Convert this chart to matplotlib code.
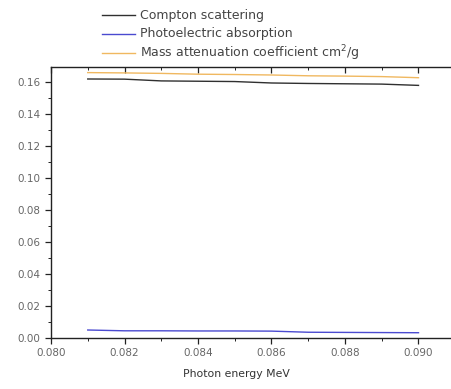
import matplotlib
matplotlib.use("Agg")
import matplotlib.pyplot as plt
from matplotlib.lines import Line2D
from matplotlib.ticker import MultipleLocator, FormatStrFormatter

plt.rcParams['font.family'] = ['DejaVu Sans']

energy = [0.081, 0.082, 0.083, 0.084, 0.085, 0.086, 0.087, 0.088, 0.089, 0.090]
compton = [0.1620, 0.1619, 0.1608, 0.1606, 0.1604, 0.1595, 0.1592, 0.1590, 0.1588, 0.1580]
photo = [0.0050, 0.0045, 0.0045, 0.0044, 0.0044, 0.0043, 0.0036, 0.0035, 0.0034, 0.0033]
mass = [0.1660, 0.1658, 0.1655, 0.1650, 0.1648, 0.1645, 0.1640, 0.1638, 0.1635, 0.1628]
labels = ["Compton scattering", "Photoelectric absorption", "Mass attenuation coefficient cm$^2$/g"]
colors = ['#303030', '#4a4ad0', '#f0b860']

W, H = 451, 389
fig = plt.figure(figsize=(W/100, H/100), dpi=100)
ax = fig.add_axes([51/W, 1-338/H, 400/W, (338-67)/H])

lines = []
for ys, c in zip([compton, photo, mass], colors):
    l, = ax.plot(energy, ys, color=c, lw=1.0)
    lines.append(l)

ax.set_xlim(0.080, 0.080 + 400/36.75*0.001)
ax.set_ylim(0, 0.1695)
ax.xaxis.set_major_locator(MultipleLocator(0.002))
ax.xaxis.set_minor_locator(MultipleLocator(0.001))
ax.yaxis.set_major_locator(MultipleLocator(0.02))
ax.yaxis.set_minor_locator(MultipleLocator(0.01))
ax.xaxis.set_major_formatter(FormatStrFormatter('%.3f'))
ax.yaxis.set_major_formatter(FormatStrFormatter('%.2f'))
ax.tick_params(axis='both', which='both', labelsize=7.5, labelcolor='#666666', color='#222222', direction='out')
ax.tick_params(axis='both', which='major', length=4, width=0.9)
ax.tick_params(axis='both', which='minor', length=2.5, width=0.7)
for s in ['left', 'bottom', 'top']:
    ax.spines[s].set_linewidth(1.0)
    ax.spines[s].set_color('#222222')
ax.spines['right'].set_visible(False)

top = ax.secondary_xaxis('top')
top.xaxis.set_major_locator(MultipleLocator(0.002))
top.xaxis.set_minor_locator(MultipleLocator(0.001))
top.tick_params(axis='x', which='both', direction='in', labeltop=False, color='#222222')
top.tick_params(axis='x', which='major', length=4, width=0.9)
top.tick_params(axis='x', which='minor', length=2.5, width=0.7)
top.spines['top'].set_visible(False)

ax.set_xlabel("Photon energy MeV", fontsize=7.8, color='#333333')
ax.xaxis.set_label_coords((236-51)/400, -0.115)

# legend drawn manually above the axes
for i, (lab, c) in enumerate(zip(labels, colors)):
    yp = 1 - (15 + 19*i)/H
    fig.add_artist(Line2D([102/W, 135/W], [yp, yp], transform=fig.transFigure, color=c, lw=1.0))
    fig.text(140/W, yp, lab, fontsize=9, color='#444444', va='center', ha='left')

fig.savefig("out.png", dpi=100)
